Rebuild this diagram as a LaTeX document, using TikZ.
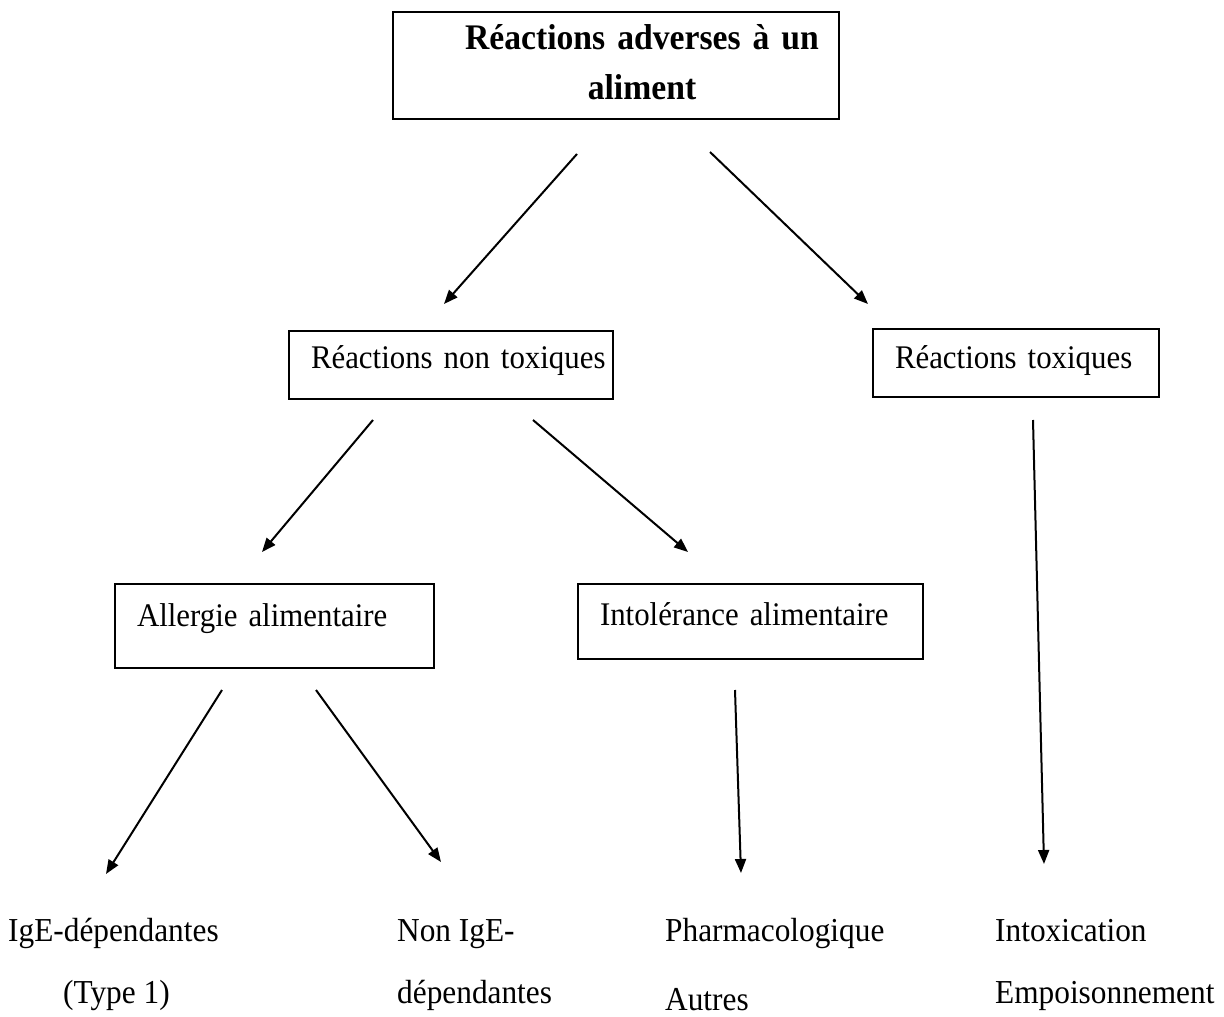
\documentclass[tikz,border=0pt]{standalone}
\usepackage{fontspec}
\setmainfont[FakeStretch=0.935]{Liberation Serif}
\usetikzlibrary{arrows.meta,calc}
\begin{document}
\begin{tikzpicture}[x=1pt,y=-1pt,
  box/.style={draw,line width=2pt,inner sep=0pt,anchor=north west,
    font=\fontsize{33}{40}\selectfont,align=left,
    execute at begin node={\hspace*{22pt}}},
  arr/.style={line width=2pt,-{Triangle[length=14pt,width=11pt]}},
  lbl/.style={font=\fontsize{33.5}{62}\selectfont,anchor=base west,align=left,inner sep=0pt}]
\useasboundingbox (0,0) rectangle (1224,1017);

% boxes
\node[draw,line width=2pt,inner sep=0pt,anchor=north west,
  minimum width=446pt,text width=446pt,align=center,text height=37pt,text depth=70pt,
  font=\bfseries\fontsize{36}{50}\selectfont] (title) at (392,11)
  {\hspace*{52pt}Réactions adverses à un\\\hspace*{52pt}aliment};
\node[box,text width=324pt,text height=37pt,text depth=31pt] (nontox) at (288,330) {Réactions non toxiques};
\node[box,text width=286pt,text height=39pt,text depth=29pt] (tox) at (872,328) {Réactions toxiques};
\node[box,text width=319pt,text height=42pt,text depth=42pt] (allerg) at (114,583) {Allergie alimentaire};
\node[box,text width=345pt,text height=41pt,text depth=34pt] (intol) at (577,583) {Intolérance alimentaire};

% bottom labels (base = last line)
\node[lbl,align=center] (ige) at (8,1003) {IgE-dépendantes\\\hspace*{6pt}(Type 1)};
\node[lbl] (nonige) at (397,1003) {Non IgE-\\dépendantes};
\node[lbl,font=\fontsize{33.5}{69}\selectfont] (pharm) at (665,1010) {Pharmacologique\\Autres};
\node[lbl] (intox) at (995,1003) {Intoxication\\Empoisonnement};

% connector ends
\coordinate (t1) at ($(title.south west)+(185,34)$);
\coordinate (t2) at ($(title.south west)+(318,32)$);
\coordinate (n1) at ($(nontox.north west)+(156,-26)$);
\coordinate (n2) at ($(tox.north west)+(-4,-24)$);
\coordinate (n3) at ($(nontox.south west)+(85,20)$);
\coordinate (n4) at ($(nontox.south west)+(245,20)$);
\coordinate (a1) at ($(allerg.north west)+(148,-31)$);
\coordinate (i1) at ($(intol.north west)+(111,-31)$);
\coordinate (x1) at ($(tox.south west)+(161,22)$);
\coordinate (x2) at ($(tox.south west)+(172,466)$);
\coordinate (a2) at ($(allerg.south west)+(108,21)$);
\coordinate (a3) at ($(allerg.south west)+(202,21)$);
\coordinate (g1) at ($(ige.base west)+(98,-129)$);
\coordinate (g2) at ($(nonige.base west)+(44,-141)$);
\coordinate (i2) at ($(intol.south west)+(158,30)$);
\coordinate (p1) at ($(pharm.base west)+(76,-137)$);

\draw[arr] (t1) -- (n1);
\draw[arr] (t2) -- (n2);
\draw[arr] (n3) -- (a1);
\draw[arr] (n4) -- (i1);
\draw[arr] (x1) -- (x2);
\draw[arr] (a2) -- (g1);
\draw[arr] (a3) -- (g2);
\draw[arr] (i2) -- (p1);
\end{tikzpicture}
\end{document}
